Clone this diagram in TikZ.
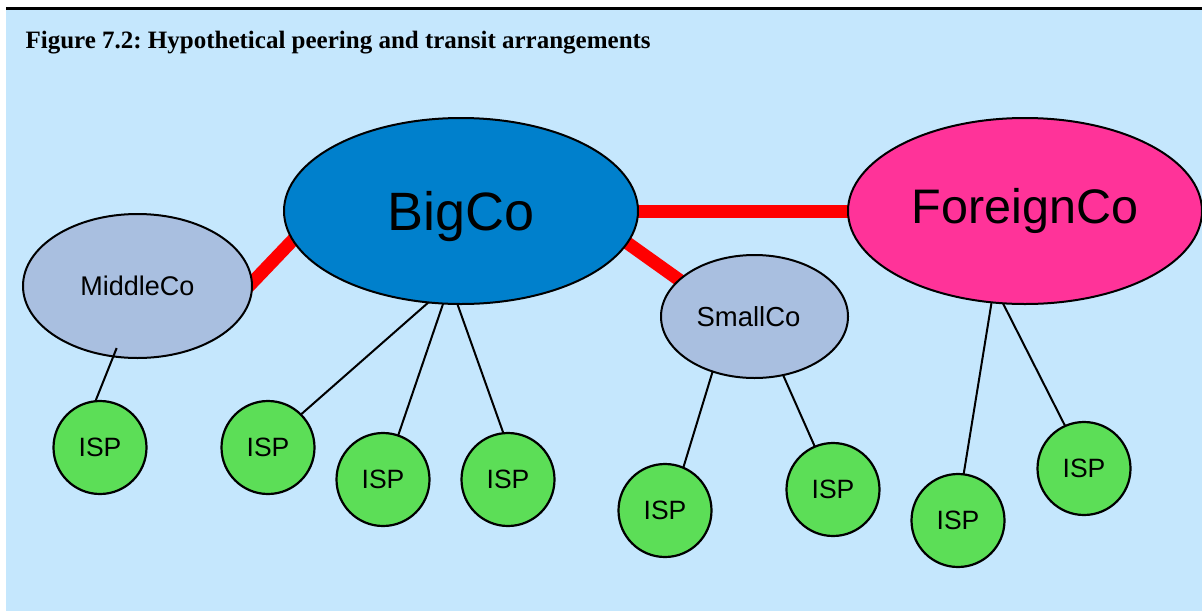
\documentclass[tikz,border=0pt]{standalone}
\usepackage{fontspec}
\setmainfont{Liberation Sans}
\newfontfamily\titlefont{Liberation Serif}
\usetikzlibrary{shapes.geometric}
\pgfdeclarelayer{back}
\pgfdeclarelayer{links}
\pgfsetlayers{back,links,main}
\definecolor{bgblue}{RGB}{197,231,253}
\definecolor{bigblue}{RGB}{0,128,204}
\definecolor{foreignpink}{RGB}{255,51,153}
\definecolor{greyblue}{RGB}{169,191,224}
\definecolor{ispgreen}{RGB}{92,222,87}
\frenchspacing
\tikzset{
  company/.style={ellipse, draw=black, line width=2pt, inner sep=0pt},
  isp/.style={circle, draw=black, fill=ispgreen, line width=2.2pt, minimum size=93pt, inner sep=0pt, font=\fontsize{26.5}{30}\selectfont},
  peer/.style={draw=red, line width=13pt, shorten <=-8pt, shorten >=-8pt},
  link/.style={draw=black, line width=2pt, shorten <=-2pt, shorten >=-2pt},
}
\begin{document}
\begin{tikzpicture}[x=1pt,y=-1pt]
\useasboundingbox (0,0) rectangle (1202,611);
\begin{pgfonlayer}{back}
  \fill[bgblue] (6,9.5) rectangle (1202,611);
  \draw[line width=2.5pt] (6,8.3) -- (1202,8.3);
\end{pgfonlayer}

\node[anchor=base west, font=\titlefont\bfseries\fontsize{25}{30}\selectfont] (title) at (22,48.5) {Figure 7.2: Hypothetical peering and transit arrangements};

\node[company, fill=bigblue, minimum width=354pt, minimum height=186pt, text depth=0pt, font=\fontsize{54}{60}\selectfont] (big) at (461,211) {BigCo};
\node[company, fill=foreignpink, minimum width=354pt, minimum height=186pt, font=\fontsize{48.5}{54}\selectfont] (foreign) at (1025,211) {ForeignCo};
\node[company, fill=greyblue, minimum width=229pt, minimum height=144pt, font=\fontsize{27}{30}\selectfont] (mid) at (137.5,286) {MiddleCo};
\node[company, fill=greyblue, minimum width=187pt, minimum height=123pt, font=\fontsize{27.5}{30}\selectfont] (small) at (754.5,316.5) {\hspace*{-12pt}SmallCo};

\node[isp] (isp1) at (100,447.5) {ISP};
\node[isp] (isp2) at (268,447.5) {ISP};
\node[isp] (isp3) at (383,479.5) {ISP};
\node[isp] (isp4) at (508,479.5) {ISP};
\node[isp] (isp5) at (665,510.5) {ISP};
\node[isp] (isp6) at (833,489.5) {ISP};
\node[isp] (isp7) at (958,520.5) {ISP};
\node[isp] (isp8) at (1084,468.5) {ISP};

\begin{pgfonlayer}{links}
  \path[peer] (mid.2) -- (big.190);
  \path[peer] (big.east) -- (foreign.west);
  \path[peer] (big.-11) -- (small.154);
  \path[link] (big.250.7) -- (isp2.45);
  \path[link] (big.259) -- (isp3.71);
  \path[link] (big.268) -- (isp4.96);
  \path[link] (small.233.4) -- (isp5.67);
  \path[link] (small.296.4) -- (isp6.113);
  \path[link] (foreign.250) -- (isp7.83);
  \path[link] (foreign.257.5) -- (isp8.114);
\end{pgfonlayer}
\draw[line width=2pt, shorten <=-10pt] (mid.251) -- (isp1.95);
\end{tikzpicture}
\end{document}
